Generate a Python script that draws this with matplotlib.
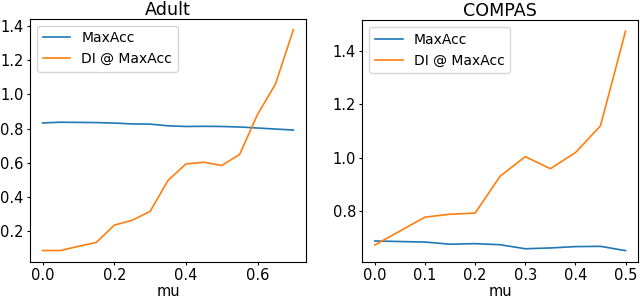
import matplotlib
matplotlib.use('Agg')
import matplotlib.pyplot as plt

# Adult
mu_adult = [0.0, 0.05, 0.1, 0.15, 0.2, 0.25, 0.3, 0.35, 0.4, 0.45, 0.5, 0.55, 0.6, 0.65, 0.7]
acc_adult = [0.833, 0.837, 0.836, 0.835, 0.832, 0.827, 0.826, 0.816, 0.812, 0.813, 0.812, 0.809, 0.803, 0.797, 0.791]
di_adult = [0.083, 0.083, 0.108, 0.131, 0.232, 0.261, 0.313, 0.495, 0.592, 0.602, 0.583, 0.648, 0.883, 1.061, 1.381]

# COMPAS
mu_compas = [0.0, 0.05, 0.1, 0.15, 0.2, 0.25, 0.3, 0.35, 0.4, 0.45, 0.5]
acc_compas = [0.689, 0.687, 0.685, 0.677, 0.679, 0.675, 0.660, 0.663, 0.668, 0.669, 0.653]
di_compas = [0.674, 0.726, 0.778, 0.789, 0.793, 0.931, 1.004, 0.959, 1.019, 1.119, 1.473]

plt.rcParams['font.size'] = 10.5
plt.rcParams['xtick.major.size'] = 2
plt.rcParams['ytick.major.size'] = 2
plt.rcParams['xtick.major.pad'] = 2.5
plt.rcParams['ytick.major.pad'] = 2.5

fig = plt.figure(figsize=(6.4, 3.0), dpi=100)
ax1 = fig.add_axes([0.047, 0.128, 0.431, 0.81])
ax2 = fig.add_axes([0.566, 0.128, 0.431, 0.805])

for ax, mu, acc, di, title in [(ax1, mu_adult, acc_adult, di_adult, 'Adult'),
                               (ax2, mu_compas, acc_compas, di_compas, 'COMPAS')]:
    ax.plot(mu, acc, color='#1f77b4', lw=1.2, label='MaxAcc')
    ax.plot(mu, di, color='#ff7f0e', lw=1.2, label='DI @ MaxAcc')
    ax.set_title(title, pad=2)
    ax.set_xlabel('mu', labelpad=1)
    ax.legend(loc='upper left', fontsize=10)

ax1.set_xticks([0.0, 0.2, 0.4, 0.6])
ax1.set_yticks([0.2, 0.4, 0.6, 0.8, 1.0, 1.2, 1.4])
ax2.set_xticks([0.0, 0.1, 0.2, 0.3, 0.4, 0.5])
ax2.set_yticks([0.8, 1.0, 1.2, 1.4])

fig.savefig('out.png', dpi=100)
